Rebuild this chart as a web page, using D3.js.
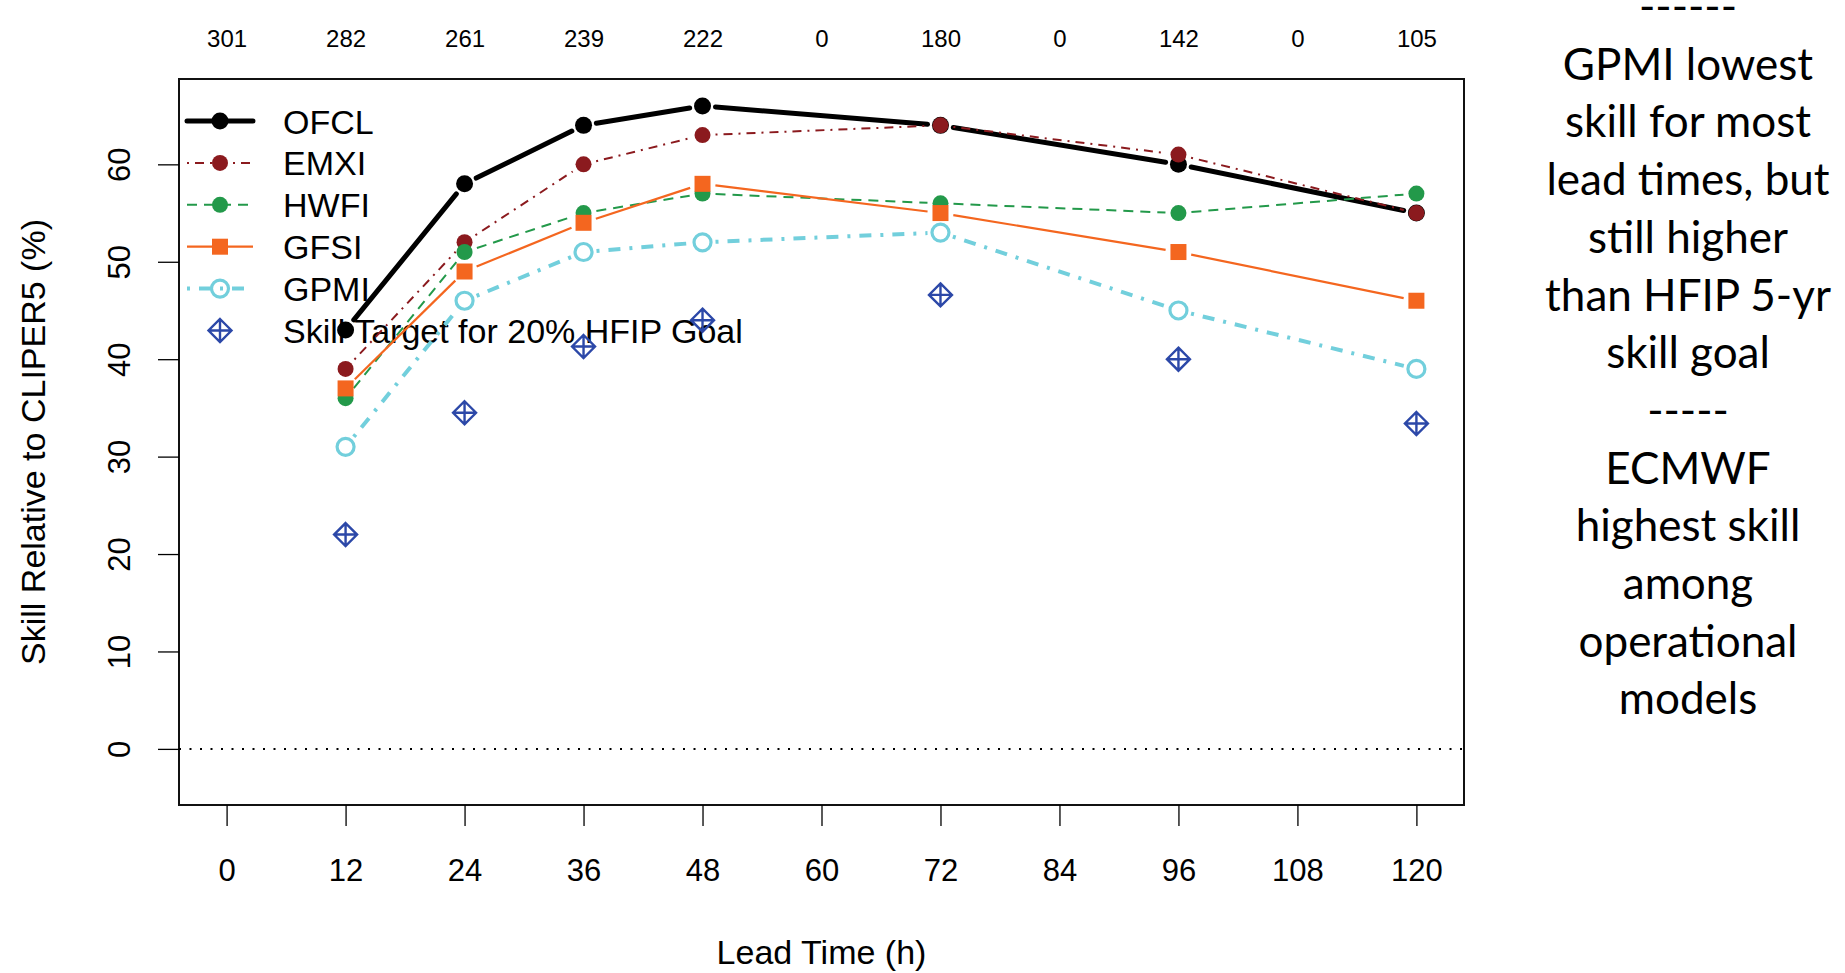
<!DOCTYPE html>
<html>
<head>
<meta charset="utf-8">
<script src="https://cdn.jsdelivr.net/npm/d3@7"></script>
<style>
  html, body { margin: 0; padding: 0; background: #fff; }
  svg { display: block; }
</style>
</head>
<body>
<svg id="chart" width="1845" height="973"></svg>
<script>
// ---- Data ----
const leadTimes = [0, 12, 24, 36, 48, 60, 72, 84, 96, 108, 120];
const caseCounts = [301, 282, 261, 239, 222, 0, 180, 0, 142, 0, 105];
const pointTimes = [12, 24, 36, 48, 72, 96, 120];
const ofcl = [43, 58, 64, 66, 64, 60, 55];
const emxi = [39, 52, 60, 63, 64, 61, 55];
const hwfi = [36, 51, 55, 57, 56, 55, 57];
const gfsi = [37, 49, 54, 58, 55, 51, 46];
const gpmi = [31, 46, 51, 52, 53, 45, 39];
const skillTarget = [22, 34.5, 41.3, 44, 46.6, 40, 33.4];
const yTicks = [0, 10, 20, 30, 40, 50, 60];
const seriesNames = ["OFCL", "EMXI", "HWFI", "GFSI", "GPMI", "Skill Target for 20% HFIP Goal"];
const noteLines = ["------", "GPMI lowest", "skill for most", "lead times, but", "still higher",
  "than HFIP 5-yr", "skill goal", "-----", "ECMWF", "highest skill", "among", "operational", "models"];

// ---- Layout ----
const box = { left: 179, right: 1464, top: 79, bottom: 805 };
const x = d3.scaleLinear().domain([-4.8, 124.8]).range([box.left, box.right]);
const y = d3.scaleLinear().domain([-5.76, 68.76]).range([box.bottom, box.top]);
const svg = d3.select("#chart");
const FONT = "'Liberation Sans', Arial, Helvetica, sans-serif";

const styles = [
  { name: seriesNames[0], values: ofcl, color: "#000000", width: 5, dash: null, cap: "round", marker: "dot", r: 8.5 },
  { name: seriesNames[1], values: emxi, color: "#8B1A1E", width: 2, dash: "2,6,9,6", cap: "butt", marker: "dot", r: 8 },
  { name: seriesNames[2], values: hwfi, color: "#23994A", width: 2, dash: "10,7", cap: "butt", marker: "dot", r: 8 },
  { name: seriesNames[3], values: gfsi, color: "#F4661F", width: 2.2, dash: null, cap: "butt", marker: "square", r: 8 },
  { name: seriesNames[4], values: gpmi, color: "#72CFDC", width: 4, dash: "3,9,12,9", cap: "butt", marker: "open", r: 8.5 },
];
const skillColor = "#2C48A8";

function drawMarker(g, type, cx, cy, color, r) {
  if (type === "dot") {
    g.append("circle").attr("cx", cx).attr("cy", cy).attr("r", r).attr("fill", color);
  } else if (type === "square") {
    g.append("rect").attr("x", cx - r).attr("y", cy - r).attr("width", 2 * r).attr("height", 2 * r).attr("fill", color);
  } else if (type === "open") {
    g.append("circle").attr("cx", cx).attr("cy", cy).attr("r", r).attr("fill", "none")
      .attr("stroke", color).attr("stroke-width", 3.2);
  } else if (type === "diamond") {
    const s = 11.5;
    g.append("path")
      .attr("d", `M${cx},${cy - s}L${cx + s},${cy}L${cx},${cy + s}L${cx - s},${cy}Z M${cx - s},${cy}L${cx + s},${cy} M${cx},${cy - s}L${cx},${cy + s}`)
      .attr("fill", "none").attr("stroke", color).attr("stroke-width", 2.4).attr("stroke-linejoin", "miter");
  }
}

// ---- Box ----
svg.append("rect").attr("x", box.left).attr("y", box.top)
  .attr("width", box.right - box.left).attr("height", box.bottom - box.top)
  .attr("fill", "none").attr("stroke", "#111").attr("stroke-width", 2);

// ---- X axis (bottom) ----
const xAxis = d3.axisBottom(x).tickValues(leadTimes).tickSize(21).tickPadding(34).tickSizeOuter(0);
const gx = svg.append("g").attr("transform", `translate(0,${box.bottom})`).call(xAxis);
gx.select(".domain").remove();
gx.selectAll(".tick line").attr("stroke", "#000").attr("stroke-width", 1.3);
gx.selectAll(".tick text").attr("font-family", FONT).attr("font-size", 31).attr("fill", "#000")
  .attr("dy", null).attr("y", 76);

// ---- Top counts ----
const xTop = d3.axisTop(x).tickValues(leadTimes).tickSize(0).tickPadding(0)
  .tickFormat((d, i) => caseCounts[i]);
const gt = svg.append("g").attr("transform", `translate(0,47)`).call(xTop);
gt.select(".domain").remove();
gt.selectAll(".tick text").attr("font-family", FONT).attr("font-size", 24).attr("fill", "#000").attr("y", 0).attr("dy", null);

// ---- Y axis ----
const yAxis = d3.axisLeft(y).tickValues(yTicks).tickSize(21).tickSizeOuter(0);
const gy = svg.append("g").attr("transform", `translate(${box.left},0)`).call(yAxis);
gy.select(".domain").remove();
gy.selectAll(".tick line").attr("stroke", "#000").attr("stroke-width", 1.3);
gy.selectAll(".tick text").attr("font-family", FONT).attr("font-size", 31).attr("fill", "#000")
  .attr("x", null).attr("dy", null).attr("text-anchor", "middle")
  .attr("transform", "translate(-49,0) rotate(-90)");

// ---- Axis titles ----
svg.append("text").attr("x", (box.left + box.right) / 2).attr("y", 964)
  .attr("text-anchor", "middle").attr("font-family", FONT).attr("font-size", 34).text("Lead Time (h)");
svg.append("text").attr("transform", `translate(45,${(box.top + box.bottom) / 2}) rotate(-90)`)
  .attr("text-anchor", "middle").attr("font-family", FONT).attr("font-size", 34)
  .text("Skill Relative to CLIPER5 (%)");

// ---- Zero reference line ----
svg.append("line").attr("x1", box.left).attr("x2", box.right).attr("y1", y(0)).attr("y2", y(0))
  .attr("stroke", "#000").attr("stroke-width", 2).attr("stroke-dasharray", "2,8.5");

// ---- Legend (drawn before data) ----
const lg = svg.append("g");
const legY0 = 121, legStep = 41.9;
styles.forEach((s, i) => {
  const ly = legY0 + i * legStep;
  lg.append("line").attr("x1", 187).attr("x2", 253).attr("y1", ly).attr("y2", ly)
    .attr("stroke", s.color).attr("stroke-width", s.width)
    .attr("stroke-dasharray", s.dash).attr("stroke-linecap", s.cap);
  drawMarker(lg, s.marker, 220, ly, s.color, s.r);
  lg.append("text").attr("x", 283).attr("y", ly + 12.5).attr("font-family", FONT).attr("font-size", 34).text(s.name);
});
{
  const ly = legY0 + 5 * legStep;
  drawMarker(lg, "diamond", 220, ly, skillColor);
  lg.append("text").attr("x", 283).attr("y", ly + 12.5).attr("font-family", FONT).attr("font-size", 34).text(seriesNames[5]);
}

// ---- Data series (type "b": lines with gaps around points) ----
const GAP = 13;
styles.forEach(s => {
  const g = svg.append("g");
  const pts = pointTimes.map((t, i) => [x(t), y(s.values[i])]);
  for (let i = 0; i < pts.length - 1; i++) {
    const [x0, y0] = pts[i], [x1, y1] = pts[i + 1];
    const L = Math.hypot(x1 - x0, y1 - y0);
    if (L <= 2 * GAP) continue;
    const ux = (x1 - x0) / L, uy = (y1 - y0) / L;
    g.append("line")
      .attr("x1", x0 + ux * GAP).attr("y1", y0 + uy * GAP)
      .attr("x2", x1 - ux * GAP).attr("y2", y1 - uy * GAP)
      .attr("stroke", s.color).attr("stroke-width", s.width)
      .attr("stroke-dasharray", s.dash).attr("stroke-linecap", s.cap);
  }
  pts.forEach(p => drawMarker(g, s.marker, p[0], p[1], s.color, s.r));
});
{
  const g = svg.append("g");
  pointTimes.forEach((t, i) => drawMarker(g, "diamond", x(t), y(skillTarget[i]), skillColor));
}

// ---- Right-side annotation ----
const note = svg.append("g");
noteLines.forEach((t, i) => {
  note.append("text").attr("x", 1688).attr("y", 22 + i * 57.7)
    .attr("text-anchor", "middle").attr("font-family", "Lato, 'Open Sans', sans-serif")
    .attr("font-size", 44).attr("fill", "#000").text(t);
});
</script>
</body>
</html>
